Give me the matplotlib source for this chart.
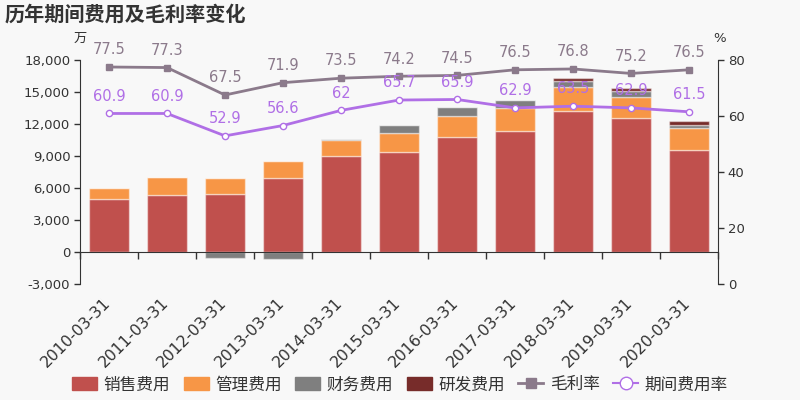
import numpy as np
import matplotlib
matplotlib.use("Agg")
import matplotlib.pyplot as plt
import matplotlib.transforms as mtransforms
from matplotlib.lines import Line2D
from matplotlib.patches import Patch
from matplotlib.ticker import FuncFormatter, FixedLocator

plt.rcParams['font.family'] = ['DejaVu Sans', 'Noto Sans CJK SC']

dates = ["2010-03-31", "2011-03-31", "2012-03-31", "2013-03-31", "2014-03-31",
         "2015-03-31", "2016-03-31", "2017-03-31", "2018-03-31", "2019-03-31", "2020-03-31"]
sales = [4940, 5310, 5410, 6970, 9030, 9400, 10810, 11380, 13250, 12530, 9590]
admin = [1090, 1720, 1560, 1560, 1470, 1750, 1940, 2090, 2220, 2000, 2000]
finance = [0, 30, -600, -620, 120, 720, 870, 750, 560, 560, 280]
research = [0, 0, 0, 0, 0, 0, 0, 0, 310, 280, 440]
gross_margin = [77.5, 77.3, 67.5, 71.9, 73.5, 74.2, 74.5, 76.5, 76.8, 75.2, 76.5]
period_rate = [60.9, 60.9, 52.9, 56.6, 62, 65.7, 65.9, 62.9, 63.5, 62.9, 61.5]

c_sales = '#c0504d'
c_admin = '#f79646'
c_fin = '#7f7f7f'
c_rd = '#772c2a'
c_gm = '#8b7a8b'
c_pr = '#b06fe6'
bg = '#f8f8f8'
txt = '#333333'

fig = plt.figure(figsize=(8, 4), dpi=100, facecolor=bg)
ax = fig.add_axes([0.1, 0.29, 0.7975, 0.56])
ax.set_facecolor(bg)

x = np.arange(len(dates))
s = np.array(sales, float)
a = np.array(admin, float)
f = np.array(finance, float)
r = np.array(research, float)
fpos = np.where(f > 0, f, 0)
fbot = np.where(f > 0, s + a, 0)
w = 0.69
ec = (1, 1, 1, 0.45)
ax.bar(x, s, w, color=c_sales, edgecolor=ec, linewidth=1, zorder=2)
ax.bar(x, a, w, bottom=s, color=c_admin, edgecolor=ec, linewidth=1, zorder=2)
ax.bar(x, f, w, bottom=fbot, color=c_fin, edgecolor=ec, linewidth=1, zorder=2)
ax.bar(x, r, w, bottom=s + a + fpos, color=c_rd, edgecolor=ec, linewidth=1, zorder=2)

ax.set_xlim(-0.5, len(dates) - 0.5)
ax.set_ylim(-3000, 18000)
ax.set_yticks(np.arange(-3000, 18001, 3000))
ax.yaxis.set_major_formatter(FuncFormatter(lambda v, p: f"{int(v):,}"))
ax.tick_params(axis='y', length=4, width=1, color=txt, labelsize=9.5, labelcolor=txt, pad=3)
for sp in ['top', 'right']:
    ax.spines[sp].set_visible(False)
ax.spines['left'].set_color(txt)
ax.spines['bottom'].set_color(txt)
ax.spines['bottom'].set_position(('data', 0))

ax.xaxis.set_major_locator(FixedLocator(x))
ax.set_xticklabels(dates)
ax.xaxis.set_minor_locator(FixedLocator(np.arange(-0.5, len(dates), 1.0)))
ax.tick_params(axis='x', which='major', length=0, pad=31, labelsize=11.3, labelcolor=txt)
ax.tick_params(axis='x', which='minor', length=5, width=1, color=txt)
shift = mtransforms.ScaledTranslation(-6 / 100, 0, fig.dpi_scale_trans)
for lab in ax.get_xticklabels():
    lab.set_rotation(45)
    lab.set_ha('right')
    lab.set_va('top')
    lab.set_rotation_mode('anchor')
    lab.set_transform(lab.get_transform() + shift)

ax2 = ax.twinx()
ax2.set_ylim(0, 80)
ax2.set_yticks([0, 20, 40, 60, 80])
for sp in ['top', 'left', 'bottom']:
    ax2.spines[sp].set_visible(False)
ax2.spines['right'].set_color(txt)
ax2.tick_params(axis='y', length=4, width=1, color=txt, labelsize=9.5, labelcolor=txt, pad=3)

ax2.plot(x, gross_margin, color=c_gm, lw=2, marker='s', ms=4, zorder=3)
ax2.plot(x, period_rate, color=c_pr, lw=2, marker='o', ms=4.5, mfc='white', mec=c_pr, mew=1, zorder=3)
for xi, v in zip(x, gross_margin):
    ax2.annotate(f"{v:g}", (xi, v), xytext=(0, 7), textcoords='offset points',
                 ha='center', va='bottom', fontsize=10.5, color=c_gm, zorder=5)
for xi, v in zip(x, period_rate):
    ax2.annotate(f"{v:g}", (xi, v), xytext=(0, 7), textcoords='offset points',
                 ha='center', va='bottom', fontsize=10.5, color=c_pr, zorder=5)

fig.text(0.006, 0.965, "历年期间费用及毛利率变化", fontsize=14.5, fontweight='bold',
         color=txt, ha='left', va='center', family=['Noto Sans CJK SC', 'DejaVu Sans'])
fig.text(0.1, 0.905, "万", fontsize=9.5, color=txt, ha='center', va='center',
         family=['Noto Sans CJK SC', 'DejaVu Sans'])
fig.text(0.8995, 0.905, "%", fontsize=9.5, color=txt, ha='center', va='center')

handles = [
    Patch(facecolor=c_sales, edgecolor=c_sales, label='销售费用'),
    Patch(facecolor=c_admin, edgecolor=c_admin, label='管理费用'),
    Patch(facecolor=c_fin, edgecolor=c_fin, label='财务费用'),
    Patch(facecolor=c_rd, edgecolor=c_rd, label='研发费用'),
    Line2D([0], [0], color=c_gm, lw=2, marker='s', ms=7, label='毛利率'),
    Line2D([0], [0], color=c_pr, lw=1.5, marker='o', ms=9, mfc='white', mec=c_pr, label='期间费用率'),
]
fig.legend(handles=handles, loc='center', bbox_to_anchor=(0.5, 0.038), ncol=6, frameon=False,
           prop={'family': ['Noto Sans CJK SC', 'DejaVu Sans'], 'size': 12},
           handlelength=1.5, handleheight=0.9, handletextpad=0.4, columnspacing=0.8,
           labelcolor=txt)

fig.savefig("out.png", dpi=100, facecolor=bg)
